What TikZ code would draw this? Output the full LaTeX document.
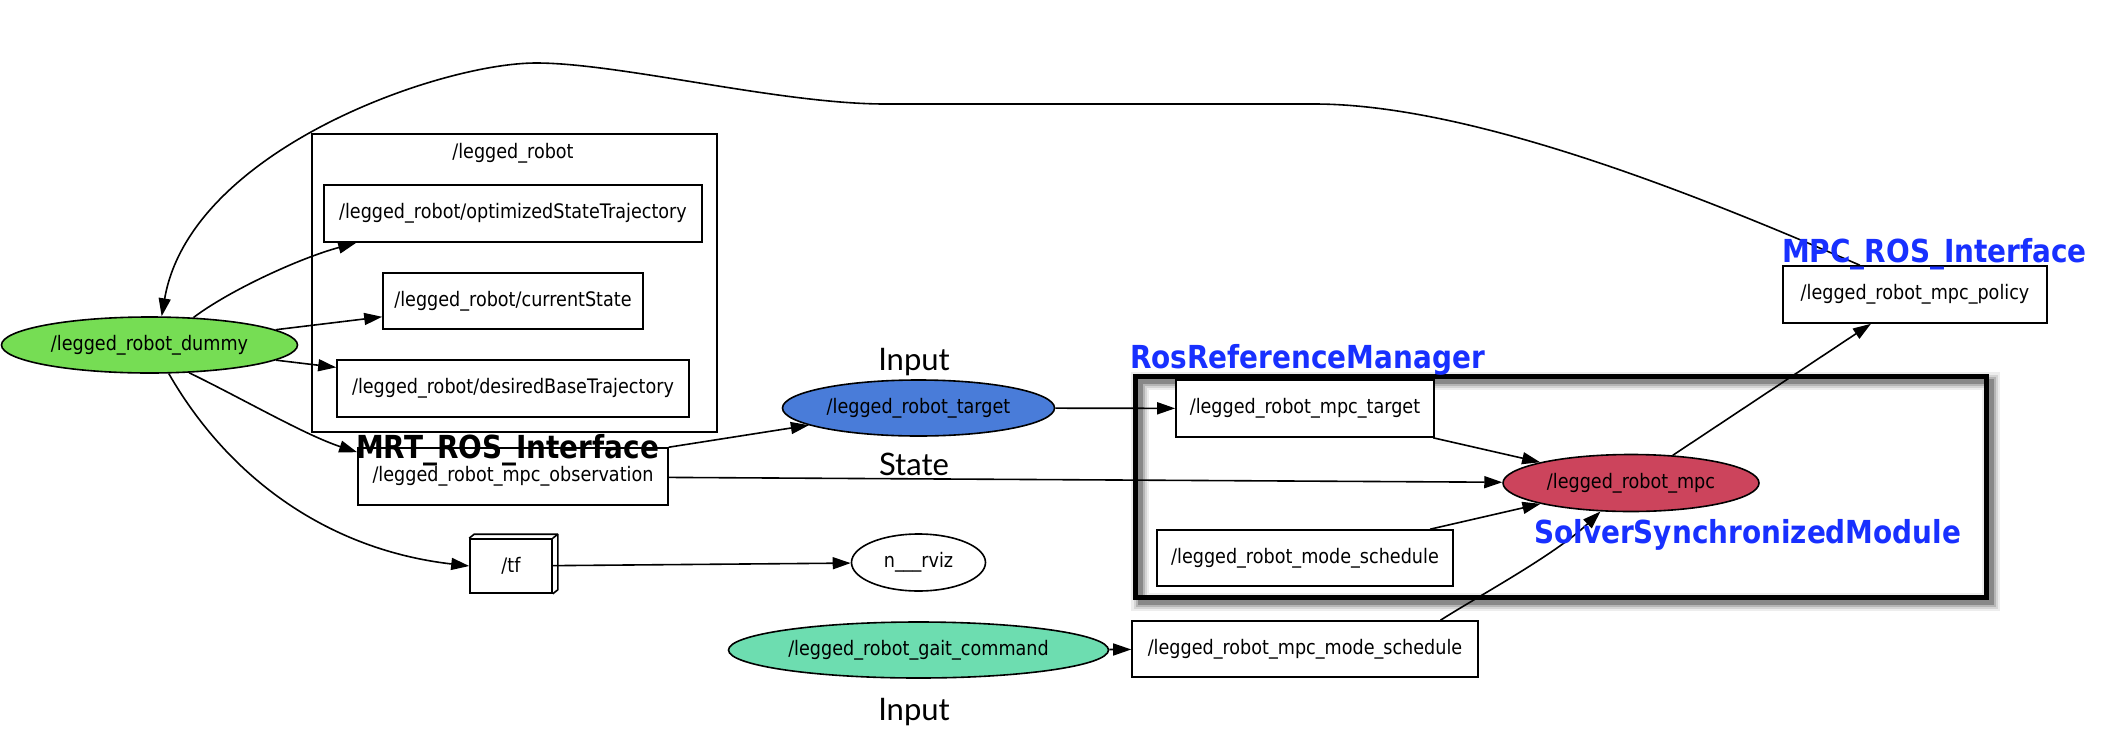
\documentclass[tikz,border=0pt]{standalone}
\usepackage{fontspec}
\setmainfont{DejaVu Sans}[FakeStretch=0.88]
\newfontfamily\lblfont{Lato}
\usetikzlibrary{shapes.geometric,arrows.meta,calc}
\definecolor{dummygreen}{RGB}{118,221,84}
\definecolor{targetblue}{RGB}{73,124,217}
\definecolor{mpcred}{RGB}{204,68,92}
\definecolor{gaitgreen}{RGB}{109,221,176}
\definecolor{tagblue}{RGB}{24,48,255}
\begin{document}
\begin{tikzpicture}[x=1pt,y=-1pt,
  every node/.style={font=\fontsize{20}{24}\selectfont, inner sep=0pt},
  topic/.style={draw, line width=1.6pt, fill=white, rectangle},
  rosnode/.style={draw, line width=1.6pt, ellipse},
  edge/.style={line width=1.6pt, -{Triangle[length=18pt,width=12pt]}},
  tag/.style={font=\fontsize{31.7}{36}\selectfont\bfseries, anchor=base west},
  note/.style={font=\lblfont\fontsize{31}{36}\selectfont, anchor=base}
]
\useasboundingbox (0,0) rectangle (2102,742);

% shadow of the solver frame
\foreach \w/\o in {18/0.07,13/0.10,9/0.15,5/0.25}
  \draw[line width=\w pt, black, opacity=\o] (1140,381) rectangle (1991,602);
\node[draw, line width=5pt, minimum width=851pt, minimum height=221pt, anchor=north west] (solver) at (1133,374) {};

% cluster /legged_robot
\node[draw, line width=1.6pt, minimum width=405pt, minimum height=298pt, anchor=north west] (cluster) at (311,133) {};
\node (clustertitle) at (513,153) {/legged\_robot};

% nodes
\node[rosnode, fill=dummygreen, minimum width=296pt, minimum height=56pt] (dummy) at (149.5,345) {/legged\_robot\_dummy};
\node[topic, minimum width=378pt, minimum height=57pt] (opt) at (513,213.5) {/legged\_robot/optimizedStateTrajectory};
\node[topic, minimum width=260pt, minimum height=56pt] (cur) at (513,301) {/legged\_robot/currentState};
\node[topic, minimum width=352pt, minimum height=57pt] (des) at (513,388.5) {/legged\_robot/desiredBaseTrajectory};
\node[topic, minimum width=310pt, minimum height=57pt] (obs) at (513,476.5) {/legged\_robot\_mpc\_observation};
\node[topic, minimum width=82pt, minimum height=54pt] (tf) at (511,566) {/tf};
\draw[line width=1.6pt, line join=round] (tf.north west) -- ++(5,-4) -- ($(tf.north east)+(5,-4)$) -- ($(tf.south east)+(5,-4)$) -- (tf.south east);
\draw[line width=1.6pt] (tf.north east) -- ++(5,-4);
\node[rosnode, fill=white, minimum width=134pt, minimum height=57pt] (rviz) at (918.5,562.5) {n\_\_\_rviz};
\node[rosnode, fill=targetblue, minimum width=272pt, minimum height=56pt] (target) at (918.5,408) {/legged\_robot\_target};
\node[rosnode, fill=gaitgreen, minimum width=380pt, minimum height=56pt] (gait) at (918.5,650) {/legged\_robot\_gait\_command};
\node[topic, minimum width=346pt, minimum height=56pt] (mms) at (1305,649) {/legged\_robot\_mpc\_mode\_schedule};
\node[topic, minimum width=258pt, minimum height=57pt] (mt) at (1305,408.5) {/legged\_robot\_mpc\_target};
\node[topic, minimum width=296pt, minimum height=56pt] (ms) at (1305,558) {/legged\_robot\_mode\_schedule};
\node[rosnode, fill=mpcred, minimum width=256pt, minimum height=57pt] (mpc) at (1631,483) {/legged\_robot\_mpc};
\node[topic, minimum width=264pt, minimum height=57pt] (pol) at (1915,294.5) {/legged\_robot\_mpc\_policy};

% edges
\draw[edge] (pol.152.6) .. controls (1720,205) and (1480,104) .. (1314,104) -- (885,104)
  .. controls (780,104) and (620,63) .. (536,63) .. controls (440,63) and (190,150) .. (dummy.67.7);
\draw[edge] (dummy.32.8) .. controls (230,290) and (300,258) .. ($(opt.south west)+(33,0)$);
\draw[edge] (dummy) -- (cur);
\draw[edge] (dummy) -- (des);
\draw[edge] (dummy.-35.3) .. controls (245,400) and (305,435) .. ($(obs.north west)+(0,5)$);
\draw[edge] (dummy.-56.5) .. controls (230,480) and (330,550) .. (tf.west);
\draw[edge] (obs.north east) -- (target);
\draw[edge] (obs) -- (mpc);
\draw[edge] (tf) -- (rviz);
\draw[edge] (target) -- (mt);
\draw[edge] (mt) -- (mpc);
\draw[edge] (ms) -- (mpc);
\draw[edge] (gait) -- (mms);
\draw[edge] (mms.12) .. controls (1475,598) and (1555,555) .. (mpc.-137);
\draw[edge] (mpc) -- (pol);

% labels
\node[note] (inputtop) at (914,370) {Input};
\node[note] (state) at (914,475) {State};
\node[note] (inputbottom) at (914,720) {Input};
\node[tag, text=black] (mrt) at (356,458) {MRT\_ROS\_Interface};
\node[tag, text=tagblue] (rrm) at (1130,368) {RosReferenceManager};
\node[tag, text=tagblue] (mri) at (1782,262) {MPC\_ROS\_Interface};
\node[tag, text=tagblue] (ssm) at (1534,543) {SolverSynchronizedModule};
\end{tikzpicture}
\end{document}
